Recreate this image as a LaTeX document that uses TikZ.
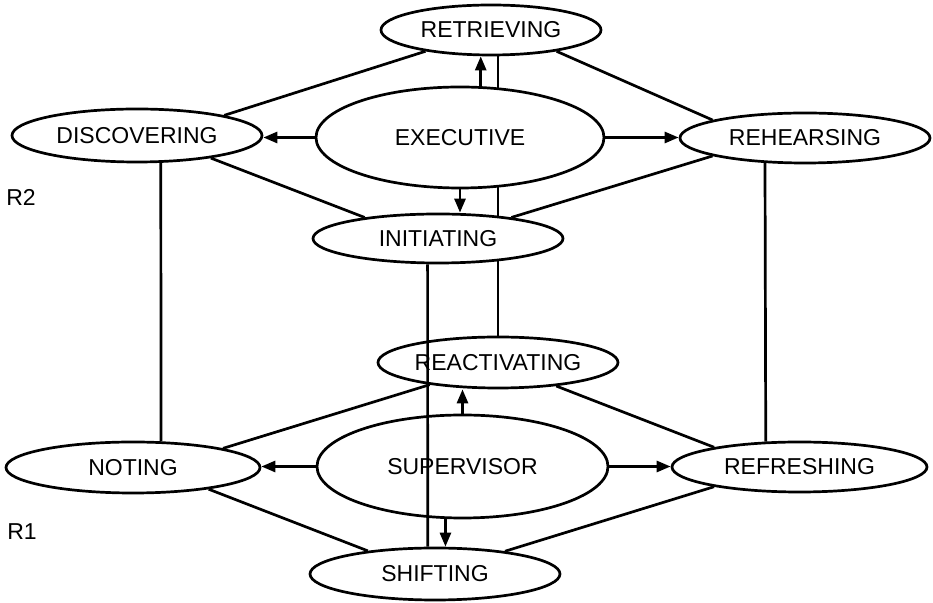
\documentclass[tikz,border=0pt]{standalone}
\usepackage{fontspec}
\setmainfont{Liberation Sans}
\usetikzlibrary{shapes.geometric,arrows.meta}

\begin{document}
\begin{tikzpicture}[x=0.5pt, y=-0.5pt, line width=1.35pt,
        state/.style={draw, ellipse, fill=white, inner sep=0pt, font=\fontsize{11.5}{13}\selectfont},
        act/.style={-{Triangle[length=7pt,width=5.5pt]}}]
        \useasboundingbox (0,0) rectangle (933,603);

        \node (retr)  at (491.0,  30.0) [state, minimum width=110pt, minimum height=25pt] {RETRIEVING};
        \node (react) at (498.0, 362.5) [state, minimum width=120pt, minimum height=25.5pt] {REACTIVATING};
        % this one runs behind EXECUTIVE and INITIATING
        \draw (react.north) -- (react.north |- retr.south);

        \node (disc)   at (137.0, 135.5) [state, minimum width=125pt, minimum height=26.5pt] {DISCOVERING};
        \node (exec)   at (460.0, 137.5) [state, minimum width=144pt, minimum height=50.5pt] {EXECUTIVE};
        \node (rehe)   at (805.0, 138.0) [state, minimum width=125pt, minimum height=25pt] {REHEARSING};
        \node (init)   at (438.0, 238.5) [state, minimum width=125pt, minimum height=24.5pt] {INITIATING};
        \node (noting) at (133.0, 467.5) [state, minimum width=127pt, minimum height=25.5pt] {NOTING};
        \node (super)  at (462.5, 466.5) [state, minimum width=145.5pt, minimum height=51.5pt] {SUPERVISOR};
        \node (refr)   at (799.5, 467.0) [state, minimum width=127.5pt, minimum height=25pt] {REFRESHING};
        \node (shift)  at (435.0, 574.0) [state, minimum width=125pt, minimum height=26pt] {SHIFTING};

        \node (lblr2) at (21, 197) [font=\fontsize{11.5}{13}\selectfont] {R2};
        \node (lblr1) at (22, 532) [font=\fontsize{11.5}{13}\selectfont] {R1};

        % upper ring
        \draw (retr.198) -- (disc.13);
        \draw (retr.342) -- (rehe.169);
        \draw (disc.343) -- (init.164);
        \draw (rehe.191) -- (init.16);

        % lower ring
        \draw (react.198) -- (noting.12);
        \draw (react.338) -- (refr.167);
        \draw (noting.344) -- (shift.161);
        \draw (refr.193) -- (shift.18);

        % verticals
        \draw (disc.311) -- (noting.43);
        \draw (rehe.212) -- (refr.143);
        \draw (init.248) -- (shift.105);

        % executive
        \draw[act] (exec.68) -- (exec.68 |- retr.south);
        \draw[act] (exec.west) -- (exec.west -| disc.east);
        \draw[act] (exec.east) -- (exec.east -| rehe.west);
        \draw[act] (exec.south) -- (exec.south |- init.north);

        % supervisor
        \draw[act] (super.north) -- (super.north |- react.south);
        \draw[act] (super.west) -- (super.west -| noting.east);
        \draw[act] (super.east) -- (super.east -| refr.west);
        \draw[act] (super.252) -- (super.252 |- shift.north);
    \end{tikzpicture}
\end{document}
